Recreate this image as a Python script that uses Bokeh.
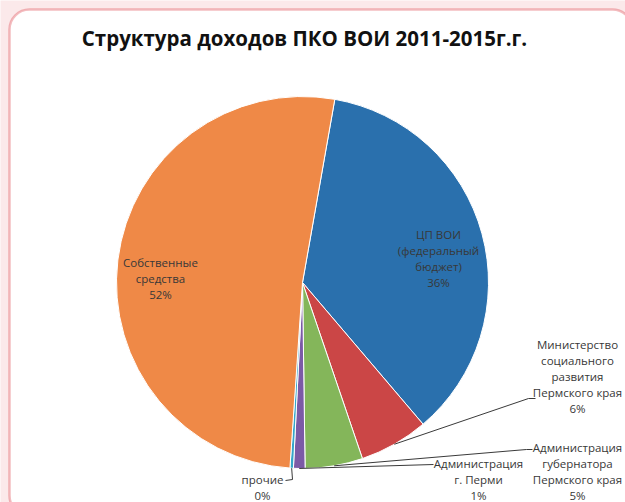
import numpy as np
from bokeh.plotting import figure
from bokeh.models import Range1d, BoxAnnotation, ColumnDataSource, Label
from bokeh.core.properties import value
from bokeh.embed import file_html
from bokeh.resources import INLINE

# ---- data ----
categories = ["ЦП ВОИ (федеральный бюджет)",
              "Министерство социального развития Пермского края",
              "Администрация губернатора Пермского края",
              "Администрация г. Перми",
              "прочие",
              "Собственные средства"]
values = [36.0, 6.0, 5.0, 1.0, 0.3, 51.7]
label_lines = ["ЦП ВОИ\n(федеральный\nбюджет)",
               "Министерство\nсоциального\nразвития\nПермского края",
               "Администрация\nгубернатора\nПермского края",
               "Администрация\nг. Перми",
               "прочие",
               "Собственные\nсредства"]
colors = ["#2a70ad", "#cb4646", "#84b65a", "#7b5aa6", "#35a7c9", "#ef8947"]
title_text = "Структура доходов ПКО ВОИ 2011-2015г.г."

# ---- layout helpers (reference pixel -> data) ----
W, H = 625, 502
def X(px):
    return px
def Y(py):
    return H - py

FONT = "Open Sans"

p = figure(width=W, height=H, output_backend="svg", toolbar_location=None,
           x_range=Range1d(0, W), y_range=Range1d(0, H), min_border=0,
           x_axis_type=None, y_axis_type=None)
p.grid.visible = False
p.outline_line_color = None
p.background_fill_color = "#fbe9ea"
p.border_fill_color = "#fbe9ea"

frame = BoxAnnotation(left=X(9), right=X(632), top=Y(9), bottom=Y(515),
                      fill_color="white", fill_alpha=1.0,
                      line_color="#d8262e", line_width=2.5,
                      border_radius=20, level="underlay")
p.add_layout(frame)

# ---- pie ----
total = sum(values)
frac = np.array(values) / total
start_offset = 10.0  # degrees clockwise from 12 o'clock
cum = np.concatenate([[0.0], np.cumsum(frac)[:-1]]) * 360 + start_offset
end = cum + frac * 360
mid = (cum + end) / 2
CX, CY, R = X(302), Y(282), 186

src = ColumnDataSource(dict(
    cat=categories,
    start=np.radians(90 - cum),
    end=np.radians(90 - end),
    color=colors,
))
p.wedge(x=CX, y=CY, radius=R, start_angle="start", end_angle="end",
        direction="clock", fill_color="color", line_color="white",
        line_width=1, source=src)

pcts = [f"{int(round(v / total * 100))}%" for v in values]
texts = [l + "\n" + pc for l, pc in zip(label_lines, pcts)]

# label anchor positions (center x, top y) in reference pixels
label_pos = [(438, 226), (577, 336), (577, 439), (478, 455), (262, 471), (160, 254)]
p.text(x=[X(a) for a, b in label_pos], y=[Y(b) for a, b in label_pos], text=texts,
       text_font=value(FONT), text_font_size="11.5px", text_color="#383838",
       text_align="center", text_baseline="top", text_line_height=1.08)

# leader lines for outside labels
def edge(i, r=R):
    a = np.radians(mid[i])
    return CX + r * np.sin(a), CY + r * np.cos(a)

leader_ends = {1: [(528, 398), (535, 398)],
               2: [(526, 449), (532, 449)],
               3: [(433, 464)],
               4: [(292, 479), (285, 480)]}
xs, ys = [], []
for i, pts in leader_ends.items():
    ex, ey = edge(i)
    xs.append([ex] + [X(a) for a, b in pts])
    ys.append([ey] + [Y(b) for a, b in pts])
p.multi_line(xs=xs, ys=ys, line_color="#3a3a3a", line_width=1)

# ---- title ----
p.add_layout(Label(x=X(304), y=Y(37), text=title_text, text_font=FONT,
                   text_font_size="20.5px", text_font_style="bold",
                   text_color="#111111", text_align="center",
                   text_baseline="middle"))

open("out.html", "w").write(file_html(p, INLINE))
